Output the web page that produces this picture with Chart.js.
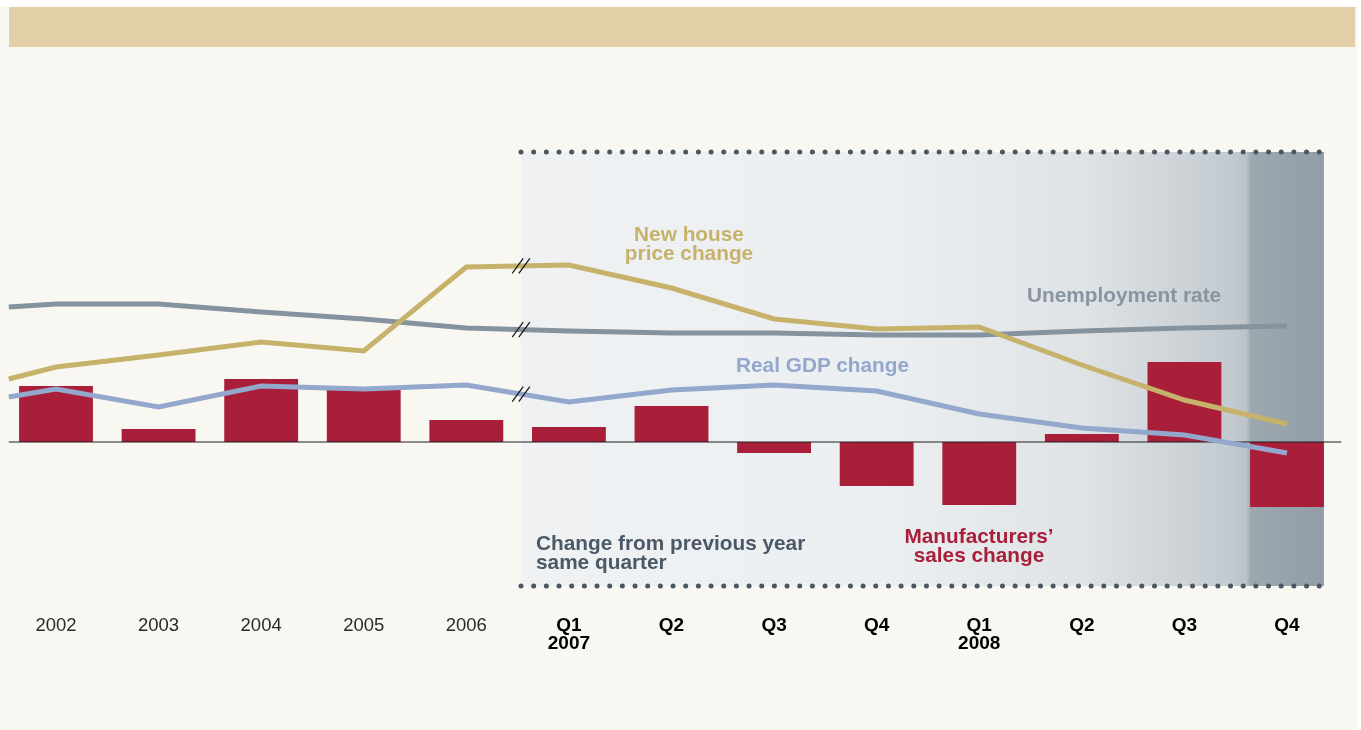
<!DOCTYPE html>
<html>
<head>
<meta charset="utf-8">
<script src="https://cdn.jsdelivr.net/npm/chart.js@4.4.1/dist/chart.umd.min.js"></script>
<style>
  html, body { margin: 0; padding: 0; background: #fff; }
  #page { position: absolute; left: 0; top: 7px; width: 1358px; height: 723px; background: #f8f7f2; }
  #banner { position: absolute; left: 9px; top: 7px; width: 1346px; height: 40px; background: #e2cfa8; }
  #chart { position: absolute; left: 0; top: 0; }
  .lbl { position: absolute; font-family: "Liberation Sans", Arial, sans-serif; font-weight: bold;
         font-size: 20.8px; line-height: 20.8px; white-space: nowrap; }
</style>
</head>
<body>
<div id="page"></div>
<div id="banner"></div>
<canvas id="chart" width="1361" height="730"></canvas>
<div id="labels"></div>
<script>
const $ = (id) => document.getElementById(id);

// ----- data (units: % change) -----
const categories = ['2002', '2003', '2004', '2005', '2006', ['Q1', '2007'], 'Q2', 'Q3', 'Q4',
                    ['Q1', '2008'], 'Q2', 'Q3', 'Q4'];
const manufacturersSales = [5.6, 1.3, 6.3, 5.2, 2.2, 1.5, 3.6, -1.1, -4.4, -6.3, 0.8, 8.0, -6.5];
// lines begin with a short lead-in left of 2002
const lineX = [-0.46, 0, 1, 2, 3, 4, 5, 6, 7, 8, 9, 10, 11, 12];
const housePrice = [6.3, 7.5, 8.7, 10.0, 9.1, 17.5, 17.7, 15.4, 12.3, 11.3, 11.5, 7.7, 4.2, 1.8];
const unemployment = [13.5, 13.8, 13.8, 13.0, 12.3, 11.4, 11.1, 10.9, 10.9, 10.7, 10.7, 11.1, 11.4, 11.6];
const realGdp = [4.5, 5.3, 3.5, 5.6, 5.3, 5.7, 4.0, 5.2, 5.7, 5.1, 2.8, 1.4, 0.7, -1.1];

const yMin = -14.4, yMax = 29;
const quarterlyFrom = 4.533, quarterlyTo = 12.36;   // shaded quarterly section (category units)
const breakAt = 4.533;                              // axis break between annual and quarterly
const zeroFrom = -0.46, zeroTo = 12.53;

const C = {
  bar: '#a91e39', house: '#c7b26b', unemp: '#85939e', gdp: '#93a8cc',
  dots: '#4a5661', zero: '#1e1e1e'
};

function pts(vals) { return vals.map((v, i) => ({ x: lineX[i], y: v })); }

// ----- plugins -----
const backdrop = {
  id: 'backdrop',
  beforeDatasetsDraw(chart) {
    const g = chart.ctx, xs = chart.scales.x2, a = chart.chartArea;
    const x0 = xs.getPixelForValue(quarterlyFrom), x1 = xs.getPixelForValue(quarterlyTo);
    const grad = g.createLinearGradient(x0, 0, x1, 0);
    grad.addColorStop(0, '#eff1f3');
    grad.addColorStop(0.45, '#eceff1');
    grad.addColorStop(0.7, '#dfe3e6');
    grad.addColorStop(0.88, '#c4cbd0');
    grad.addColorStop(0.903, '#bcc4ca');
    grad.addColorStop(0.909, '#9ca7af');
    grad.addColorStop(1, '#929da5');
    g.save();
    g.fillStyle = grad;
    g.fillRect(x0, a.top, x1 - x0, a.bottom - a.top);
    g.restore();
  },
  afterDatasetDraw(chart, args) {
    if (args.index !== 0) return;
    // zero line sits over the bars but under the lines
    const g = chart.ctx, xs = chart.scales.x2, y = chart.scales.y.getPixelForValue(0);
    g.save();
    g.strokeStyle = C.zero; g.lineWidth = 1.2;
    g.beginPath();
    g.moveTo(xs.getPixelForValue(zeroFrom), y);
    g.lineTo(xs.getPixelForValue(zeroTo), y);
    g.stroke();
    g.restore();
  },
  afterDatasetsDraw(chart) {
    const g = chart.ctx, xs = chart.scales.x2, ys = chart.scales.y, a = chart.chartArea;
    const x0 = xs.getPixelForValue(quarterlyFrom), x1 = xs.getPixelForValue(quarterlyTo);
    // dotted frame lines
    g.save();
    g.strokeStyle = C.dots; g.lineWidth = 5; g.lineCap = 'round';
    g.setLineDash([0, 12.67]);
    [a.top, a.bottom].forEach(y => {
      g.beginPath(); g.moveTo(x0, y); g.lineTo(x1 - 3, y); g.stroke();
    });
    g.restore();
    // break marks on each line
    const bx = xs.getPixelForValue(breakAt);
    g.save();
    g.strokeStyle = '#1a1a1a'; g.lineWidth = 1.3;
    [housePrice, unemployment, realGdp].forEach(vals => {
      const i = lineX.indexOf(4);
      const t = (breakAt - lineX[i]) / (lineX[i + 1] - lineX[i]);
      const by = ys.getPixelForValue(vals[i] + t * (vals[i + 1] - vals[i]));
      [-3.3, 3.3].forEach(dx => {
        g.beginPath();
        g.moveTo(bx + dx - 5.5, by + 7.5);
        g.lineTo(bx + dx + 5.5, by - 7.5);
        g.stroke();
      });
    });
    g.restore();
  }
};

// ----- chart -----
const lineDs = (label, vals, color, order) => ({
  type: 'line', label, data: pts(vals), xAxisID: 'x2', yAxisID: 'y',
  borderColor: color, borderWidth: 5, pointRadius: 0, tension: 0, order,
  borderJoinStyle: 'miter', borderCapStyle: 'butt'
});

new Chart($('chart').getContext('2d'), {
  type: 'bar',
  data: {
    labels: categories,
    datasets: [
      { type: 'bar', label: 'Manufacturers’ sales change', data: manufacturersSales, xAxisID: 'x', yAxisID: 'y',
        backgroundColor: C.bar, grouped: false, barPercentage: 0.72, categoryPercentage: 1, order: 4 },
      lineDs('Real GDP change', realGdp, C.gdp, 3),
      lineDs('Unemployment rate', unemployment, C.unemp, 2),
      lineDs('New house price change', housePrice, C.house, 1)
    ]
  },
  options: {
    responsive: false, animation: false, devicePixelRatio: 1,
    layout: { padding: { left: 4.7, right: 22.7, top: 152, bottom: 64 } },
    plugins: { legend: { display: false }, tooltip: { enabled: false } },
    scales: {
      x: {
        type: 'category', offset: true,
        grid: { display: false, drawTicks: false }, border: { display: false },
        afterFit: (s) => { s.height = 80; },
        ticks: {
          autoSkip: false, maxRotation: 0, padding: 31,
          color: (c) => c.index < 5 ? '#2a2a2a' : '#000',
          font: (c) => c.index < 5
            ? { family: '"Liberation Sans Narrow", "Liberation Sans", Arial, sans-serif', size: 18.5, weight: 'normal', lineHeight: '18px' }
            : { family: '"Liberation Sans", Arial, sans-serif', size: 19, weight: 'bold', lineHeight: '18px' }
        }
      },
      x2: { type: 'linear', display: false, offset: false, min: -0.5, max: 12.5 },
      y: { display: false, min: yMin, max: yMax }
    }
  },
  plugins: [backdrop]
});

// ----- annotation text -----
const notes = [
  { lines: ['New house', 'price change'], x: 689, base: 241.5, color: '#c7b26b', align: 'center' },
  { lines: ['Unemployment rate'], x: 1027, base: 302.5, color: '#8994a0', align: 'left' },
  { lines: ['Real GDP change'], x: 736, base: 372.5, color: '#93a8cc', align: 'left' },
  { lines: ['Change from previous year', 'same quarter'], x: 536, base: 550.7, color: '#4b5866', align: 'left' },
  { lines: ['Manufacturers’', 'sales change'], x: 979, base: 543.8, color: '#a91e39', align: 'center' }
];
notes.forEach(n => {
  n.lines.forEach((t, i) => {
    const d = document.createElement('div');
    d.className = 'lbl';
    d.textContent = t;
    d.style.color = n.color;
    d.style.top = (n.base + i * 18.8 - 17.6) + 'px';
    if (n.align === 'center') { d.style.left = n.x + 'px'; d.style.transform = 'translateX(-50%)'; }
    else d.style.left = n.x + 'px';
    $('labels').appendChild(d);
  });
});
</script>
</body>
</html>
